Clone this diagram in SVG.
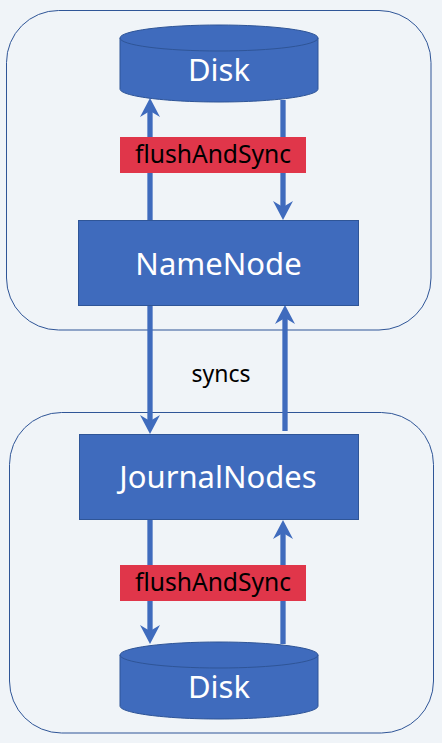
<svg xmlns="http://www.w3.org/2000/svg" width="442" height="743" viewBox="0 0 442 743">
<style>
.frame{fill:none;stroke:#2f5597;stroke-width:1}
.node{fill:#3f6bbd;stroke:#2f5597;stroke-width:1}
.label{fill:#fff;font-family:"Noto Sans","Open Sans",sans-serif;font-size:31px;text-anchor:middle}
.tag{fill:#e0364a}
.dark{fill:#000;font-family:"Noto Sans","Open Sans",sans-serif;font-size:24.6px;text-anchor:middle}
.small{fill:#000;font-family:"Noto Sans","Open Sans",sans-serif;font-size:23px;text-anchor:middle}
.wire{fill:none;stroke:#3f6bbd;stroke-width:5.3}
.head{fill:#3f6bbd}
</style>
<defs>
<path id="down" class="head" d="M0 0L-10 -19L0 -13L10 -19Z"/>
<path id="up" class="head" d="M0 0L-10 19L0 13L10 19Z"/>
</defs>
<rect width="442" height="743" fill="#f0f4f8"/>
<g id="frame-top"><rect class="frame" x="6.5" y="10.5" width="424.5" height="319.5" rx="52"/></g>
<g id="frame-bottom"><rect class="frame" x="9.5" y="412.5" width="424" height="320.5" rx="52"/></g>
<g id="connectors">
<path class="wire" d="M150 220V108"/><use href="#up" x="150" y="98"/>
<path class="wire" d="M283 100V209"/><use href="#down" x="283" y="220"/>
<path class="wire" d="M150 305V423"/><use href="#down" x="150" y="434"/>
<path class="wire" d="M285 431V316"/><use href="#up" x="285" y="305"/>
<path class="wire" d="M150 519V632"/><use href="#down" x="150" y="644"/>
<path class="wire" d="M283 644V531"/><use href="#up" x="283" y="520"/>
</g>
<g id="disk-top">
<path class="node" d="M120 38V89C120 96 164 102 219 102S318 96 318 89V38Z"/>
<ellipse class="node" cx="219" cy="38" rx="99" ry="13"/>
<text class="label" x="219" y="81">Disk</text>
</g>
<g id="namenode">
<rect class="node" x="78.5" y="220.5" width="280" height="85"/>
<text class="label" x="218.5" y="275">NameNode</text>
</g>
<g id="journalnodes">
<rect class="node" x="79.5" y="434.5" width="279" height="85"/>
<text class="label" x="218" y="488">JournalNodes</text>
</g>
<g id="disk-bottom">
<path class="node" d="M120 655V706C120 713 164 719 219 719S318 713 318 706V655Z"/>
<ellipse class="node" cx="219" cy="655" rx="99" ry="13"/>
<text class="label" x="219" y="698">Disk</text>
</g>
<g id="flush-top"><rect class="tag" x="120" y="137" width="186" height="36"/><text class="dark" x="213" y="163">flushAndSync</text></g>
<g id="flush-bottom"><rect class="tag" x="120" y="565" width="186" height="36"/><text class="dark" x="213" y="591">flushAndSync</text></g>
<g id="syncs"><text class="small" x="221" y="382">syncs</text></g>
</svg>
